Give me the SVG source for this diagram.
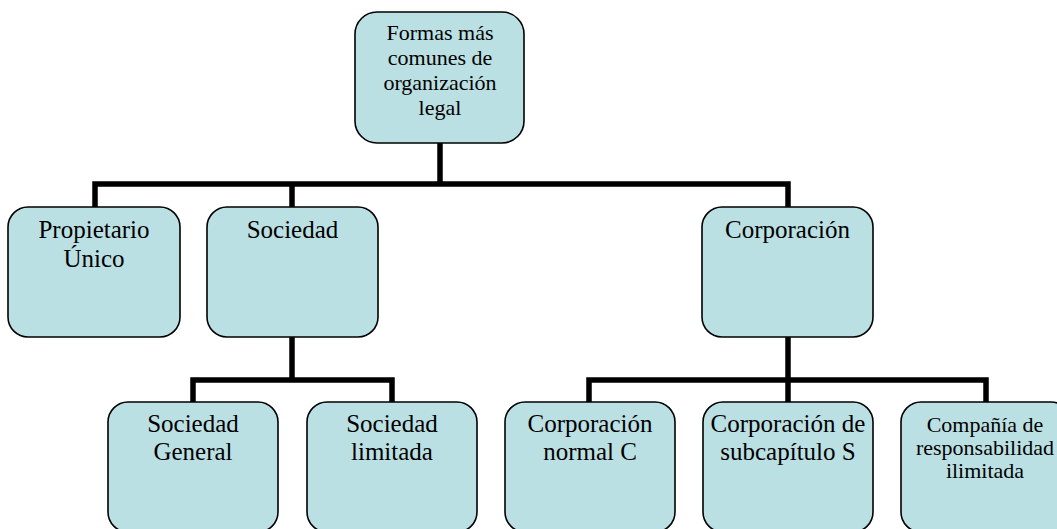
<svg xmlns="http://www.w3.org/2000/svg" width="1057" height="529" viewBox="0 0 1057 529">
<style>
.box{fill:#bbe0e3;stroke:#000;stroke-width:1.6}
.t{font-family:"Liberation Serif","Times New Roman",serif;font-size:25px;fill:#000;text-anchor:middle}
.s{font-size:22px}
.c{fill:none;stroke:#000;stroke-width:5.5;stroke-linecap:butt;stroke-linejoin:miter}
</style>
<rect width="1057" height="529" fill="#fff"/>
<g id="connectors">
<path class="c" d="M440 142V184M95 207V184H788V207M292 184V207"/>
<path class="c" d="M292 337V380M193 402V380H392V402"/>
<path class="c" d="M788 337V380M589 402V380H986V402M788 380V402"/>
</g>
<g id="n-root">
<rect class="box" x="355" y="12" width="169" height="131" rx="22"/>
<text class="t s" x="440" y="40">Formas más</text>
<text class="t s" x="440" y="65">comunes de</text>
<text class="t s" x="440" y="90">organización</text>
<text class="t s" x="440" y="115">legal</text>
</g>
<g id="n-propietario">
<rect class="box" x="8" y="207" width="172" height="130" rx="20"/>
<text class="t" x="94" y="238">Propietario</text>
<text class="t" x="94" y="267">Único</text>
</g>
<g id="n-sociedad">
<rect class="box" x="207" y="207" width="171" height="130" rx="20"/>
<text class="t" x="292.5" y="238">Sociedad</text>
</g>
<g id="n-corporacion">
<rect class="box" x="702" y="207" width="171" height="130" rx="20"/>
<text class="t" x="787.5" y="238">Corporación</text>
</g>
<g id="n-soc-general">
<rect class="box" x="108" y="402" width="170" height="130" rx="20"/>
<text class="t" x="193" y="432">Sociedad</text>
<text class="t" x="193" y="460">General</text>
</g>
<g id="n-soc-limitada">
<rect class="box" x="307" y="402" width="170" height="130" rx="20"/>
<text class="t" x="392" y="432">Sociedad</text>
<text class="t" x="392" y="460">limitada</text>
</g>
<g id="n-corp-c">
<rect class="box" x="505" y="402" width="170" height="130" rx="20"/>
<text class="t" x="590" y="432">Corporación</text>
<text class="t" x="590" y="460">normal C</text>
</g>
<g id="n-corp-s">
<rect class="box" x="703" y="402" width="170" height="130" rx="20"/>
<text class="t" x="788" y="432">Corporación de</text>
<text class="t" x="788" y="460">subcapítulo S</text>
</g>
<g id="n-compania">
<rect class="box" x="901" y="402" width="170" height="130" rx="20"/>
<text class="t s" x="985" y="432">Compañía de</text>
<text class="t s" x="985" y="455">responsabilidad</text>
<text class="t s" x="985" y="478">ilimitada</text>
</g>
</svg>
